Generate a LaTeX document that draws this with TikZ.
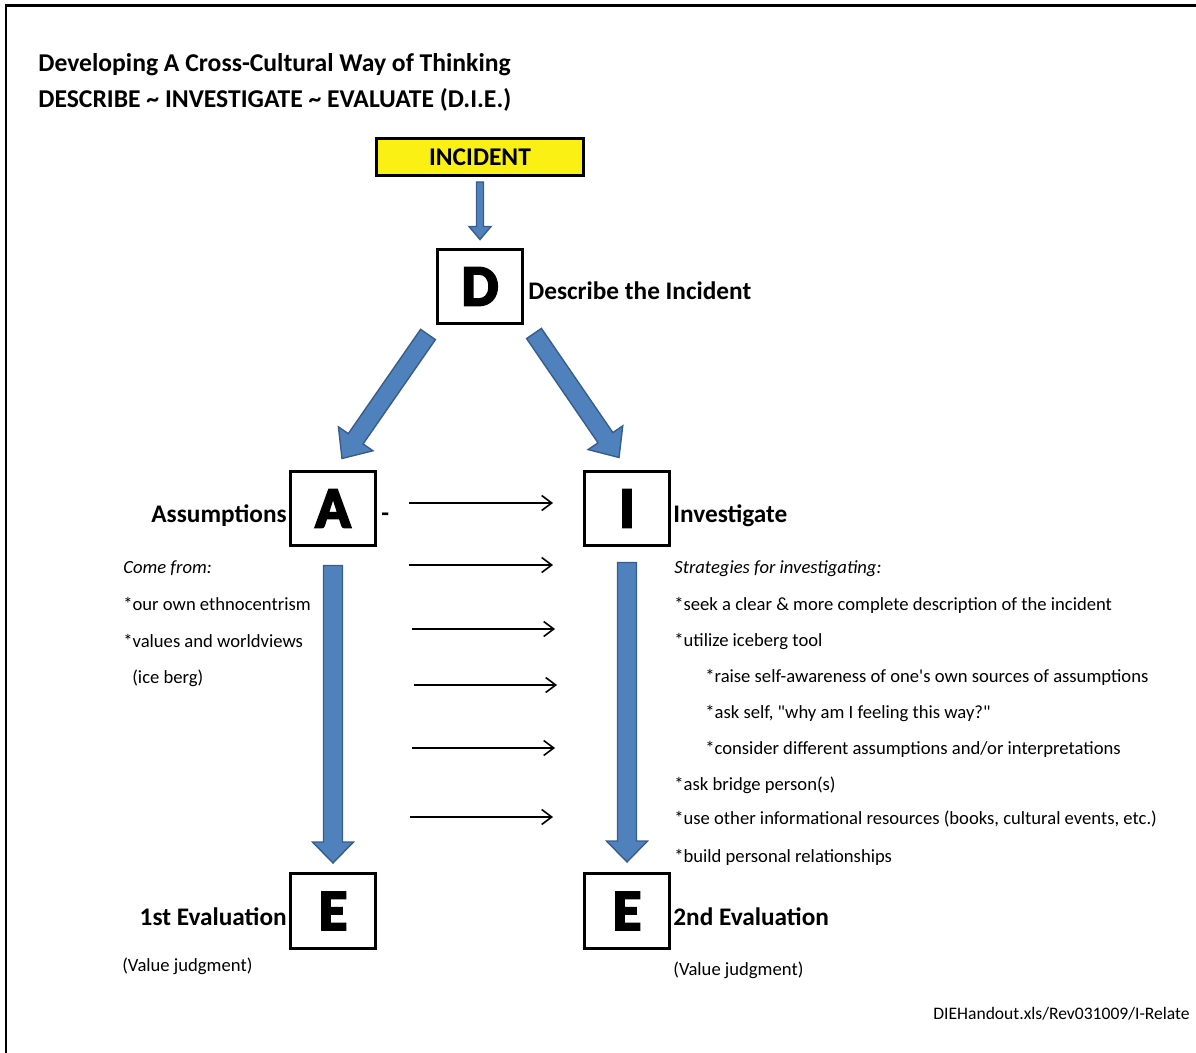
\documentclass[tikz,border=0pt]{standalone}
\usepackage{fontspec}
\setmainfont{Carlito}
\newfontfamily\blockfont[BoldFeatures={FakeBold=4}]{Carlito}
\usetikzlibrary{calc,arrows.meta}

\definecolor{arrowblue}{RGB}{79,129,189}
\definecolor{arrowedge}{RGB}{56,93,138}
\definecolor{incyellow}{RGB}{250,240,20}

\tikzstyle{letterbox} = [draw,line width=0.06cm,minimum width=1.7cm,minimum height=1.5cm,inner sep=0pt,font=\blockfont\bfseries\fontsize{33}{33}\selectfont]
\tikzstyle{incidentbox} = [draw,fill=incyellow,line width=0.06cm,minimum width=4.14cm,minimum height=0.74cm,inner sep=0pt,font=\bfseries\fontsize{14.5}{16}\selectfont]
\tikzstyle{heading} = [inner sep=0pt,font=\bfseries\fontsize{14.4}{16}\selectfont]
\tikzstyle{titleline} = [anchor=base west,inner sep=0pt,font=\bfseries\fontsize{14.6}{17}\selectfont]
\tikzstyle{listline} = [anchor=base west,inner sep=0pt,font=\fontsize{10.6}{12}\selectfont]
\tikzstyle{bluearrow} = [fill=arrowblue,draw=arrowedge,line width=0.8pt,line join=miter]
\tikzstyle{thinarrow} = [line width=0.9pt,-{Straight Barb[length=0.2cm,width=0.3cm]}]

\newcommand{\fatarrow}[5]{%
  \coordinate (fa-h) at ($(#2)!#5!(#1)$);
  \filldraw[bluearrow] ($(#1)!#3!90:(#2)$) -- ($(fa-h)!#3!90:(#2)$) -- ($(fa-h)!#4!90:(#2)$)
    -- (#2) -- ($(fa-h)!#4!-90:(#2)$) -- ($(fa-h)!#3!-90:(#2)$) -- ($(#1)!#3!-90:(#2)$) -- cycle;
}

\begin{document}
\begin{tikzpicture}[x=0.02cm,y=-0.02cm]
		\useasboundingbox (0,0) rectangle (1196,1053);
		\draw[line width=0.06cm] (6,1053) -- (6,6) -- (1196,6);
		\node[titleline] (title1) at (38,72) {Developing A Cross-Cultural Way of Thinking};
		\node[titleline] (title2) at (38,108) {DESCRIBE \textasciitilde{} INVESTIGATE \textasciitilde{} EVALUATE (D.I.E.)};
		\node[incidentbox] (incident) at (480,157) {INCIDENT};
		\node[letterbox] (d) at (480,286.5) {D};
		\node[letterbox] (a) at (333,508.5) {A};
		\node[letterbox] (i) at (627,508.5) {I};
		\node[letterbox] (e1) at (333,911) {E};
		\node[letterbox] (e2) at (627,911) {E};
		\node[heading,anchor=base west] (dlabel) at (528,300) {Describe the Incident};
		\node[heading,anchor=base east] (alabel) at (287,522) {Assumptions};
		\node[heading,anchor=base west] (ilabel) at (673,522) {Investigate};
		\node[heading,anchor=base east] (e1label) at (287,925) {1st Evaluation};
		\node[heading,anchor=base west] (e2label) at (673,925) {2nd Evaluation};
		\node[heading,anchor=base west] (dash) at (381,521) {-};
		\coordinate (inc-out) at ($(incident.south)+(0,5)$);
		\coordinate (d-in) at ($(d.north)+(0,-8)$);
		\coordinate (d-outl) at ($(d.south west)+(-8,9)$);
		\coordinate (a-in) at ($(a.north)+(9,-11)$);
		\coordinate (d-outr) at ($(d.south east)+(10,8)$);
		\coordinate (i-in) at ($(i.north)+(-8,-12)$);
		\coordinate (a-out) at ($(a.south)+(0,18)$);
		\coordinate (e1-in) at ($(e1.north)+(0,-9)$);
		\coordinate (i-out) at ($(i.south)+(0,15)$);
		\coordinate (e2-in) at ($(e2.north)+(0,-10)$);
		\fatarrow{inc-out}{d-in}{0.07cm}{0.22cm}{0.26cm}
		\fatarrow{d-outl}{a-in}{0.18cm}{0.42cm}{0.48cm}
		\fatarrow{d-outr}{i-in}{0.18cm}{0.42cm}{0.48cm}
		\fatarrow{a-out}{e1-in}{0.19cm}{0.41cm}{0.42cm}
		\fatarrow{i-out}{e2-in}{0.19cm}{0.41cm}{0.42cm}
		\foreach \ya/\xa/\xb [count=\n] in {503/409/553, 565/409/553, 629/412/555, 685/414/557, 748/412/555, 817/410/553} {
			\coordinate (t\n l) at (\xa,\ya);
			\coordinate (t\n r) at (\xb,\ya);
			\draw[thinarrow] (t\n l) -- (t\n r);
		}
		\node[listline] (a0) at (123,573) {\itshape Come from:};
		\node[listline] (a1) at (123,610) {*our own ethnocentrism};
		\node[listline] (a2) at (123,647) {*values and worldviews};
		\node[listline] (a3) at (132,683) {(ice berg)};
		\node[listline] (e1note) at (122,971) {(Value judgment)};
		\node[listline] (i0) at (674,573) {\itshape Strategies for investigating:};
		\node[listline] (i1) at (674,610) {*seek a clear \& more complete description of the incident};
		\node[listline] (i2) at (674,646) {*utilize iceberg tool};
		\node[listline] (i3) at (705,682) {*raise self-awareness of one\textquotesingle s own sources of assumptions};
		\node[listline] (i4) at (705,718) {*ask self, \textquotedbl why am I feeling this way?\textquotedbl};
		\node[listline] (i5) at (705,754) {*consider different assumptions and/or interpretations};
		\node[listline] (i6) at (674,790) {*ask bridge person(s)};
		\node[listline] (i7) at (674,824) {*use other informational resources (books, cultural events, etc.)};
		\node[listline] (i8) at (674,862) {*build personal relationships};
		\node[listline] (e2note) at (673,975) {(Value judgment)};
		\node[listline,anchor=base east,font=\fontsize{10}{12}\selectfont] (footer) at (1190,1019) {DIEHandout.xls/Rev031009/I-Relate};
		\end{tikzpicture}
\end{document}
